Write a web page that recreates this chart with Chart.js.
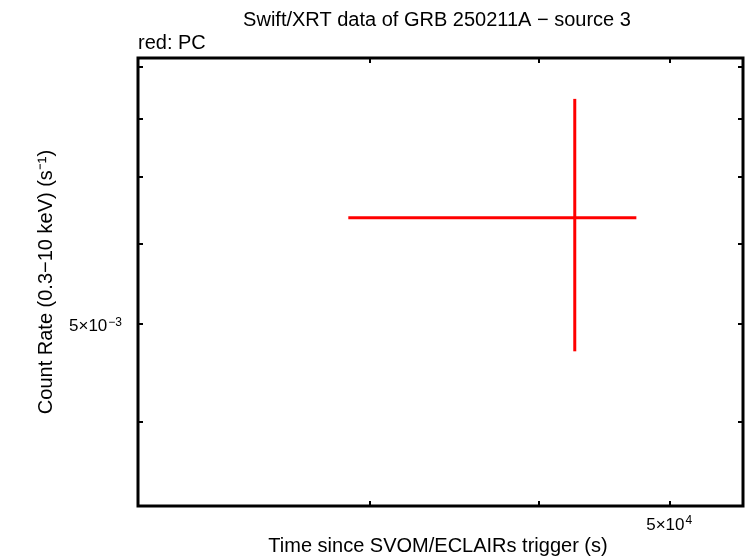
<!DOCTYPE html>
<html>
<head>
<meta charset="utf-8">
<script src="https://cdn.jsdelivr.net/npm/chart.js@4/dist/chart.umd.min.js"></script>
<style>
  html, body { margin: 0; padding: 0; background: #fff; }
  #wrap { width: 746px; height: 558px; }
</style>
</head>
<body>
<div id="wrap"><canvas id="lc" width="746" height="558"></canvas></div>
<script>
// light curve bin (PC mode)
const binTime = [4.25e4];
const binTimeLo = [2.89e4];
const binTimeHi = [4.72e4];
const binRate = [6.38e-3];
const binRateLo = [4.70e-3];
const binRateHi = [8.37e-3];

// axis ranges and ticks
const xRange = [2.02e4, 5.66e4];
const yRange = [3.31e-3, 9.19e-3];
const xTicks = [3e4, 4e4, 5e4];
const yTicks = [4e-3, 5e-3, 6e-3, 7e-3, 8e-3, 9e-3];
// labelled ticks: [value, mantissa text, exponent text]
const xTickLabels = [[5e4, '5×10', '4']];
const yTickLabels = [[5e-3, '5×10', '−3']];

const FONT = '"Liberation Sans", Arial, Helvetica, sans-serif';

// error bars as line segments, one dataset per segment
const segments = [];
binTime.forEach((t, i) => {
    segments.push({ data: [{ x: binTimeLo[i], y: binRate[i] }, { x: binTimeHi[i], y: binRate[i] }] });
    segments.push({ data: [{ x: t, y: binRateLo[i] }, { x: t, y: binRateHi[i] }] });
});

// draws "base^sup" with left edge at x, baseline-middle at y; returns width
function powLabel(ctx, base, sup, x, y, measureOnly) {
    ctx.font = '17px ' + FONT;
    const wb = ctx.measureText(base).width;
    ctx.font = '12px ' + FONT;
    const ws = ctx.measureText(sup).width;
    if (!measureOnly) {
        ctx.textAlign = 'left';
        ctx.textBaseline = 'middle';
        ctx.font = '17px ' + FONT;
        ctx.fillText(base, x, y);
        ctx.font = '12px ' + FONT;
        ctx.fillText(sup, x + wb + 1, y - 4);
    }
    return wb + ws + 1;
}

const framePlugin = {
    id: 'frame',
    afterDraw(chart) {
        const ctx = chart.ctx;
        const a = chart.chartArea;
        const xs = chart.scales.x, ys = chart.scales.y;
        ctx.save();
        ctx.strokeStyle = '#000';
        ctx.lineWidth = 2;
        xTicks.forEach(v => {
            const px = Math.round(xs.getPixelForValue(v));
            ctx.beginPath();
            ctx.moveTo(px, a.bottom); ctx.lineTo(px, a.bottom - 5);
            ctx.moveTo(px, a.top); ctx.lineTo(px, a.top + 5);
            ctx.stroke();
        });
        yTicks.forEach(v => {
            const py = Math.round(ys.getPixelForValue(v));
            ctx.beginPath();
            ctx.moveTo(a.left, py); ctx.lineTo(a.left + 5, py);
            ctx.moveTo(a.right, py); ctx.lineTo(a.right - 5, py);
            ctx.stroke();
        });
        ctx.lineWidth = 3;
        ctx.strokeRect(a.left, a.top, a.right - a.left, a.bottom - a.top);

        ctx.fillStyle = '#000';
        xTickLabels.forEach(([v, b, s]) => {
            const w = powLabel(ctx, b, s, 0, 0, true);
            powLabel(ctx, b, s, xs.getPixelForValue(v) - w / 2 - 1, a.bottom + 19);
        });
        yTickLabels.forEach(([v, b, s]) => {
            const w = powLabel(ctx, b, s, 0, 0, true);
            powLabel(ctx, b, s, a.left - 16 - w, ys.getPixelForValue(v) + 2);
        });

        ctx.font = '20px ' + FONT;
        ctx.textBaseline = 'middle';
        ctx.textAlign = 'center';
        ctx.fillText('Swift/XRT data of GRB 250211A − source 3', 437, 20);
        ctx.fillText('Time since SVOM/ECLAIRs trigger (s)', 438, 546);
        ctx.textAlign = 'left';
        ctx.fillText('red: PC', a.left, 43);

        ctx.translate(46, 282);
        ctx.rotate(-Math.PI / 2);
        ctx.textAlign = 'center';
        ctx.fillText('Count Rate (0.3−10 keV) (s⁻¹)', 0, 0);
        ctx.restore();
    }
};

const ctx = document.getElementById('lc').getContext('2d');
new Chart(ctx, {
    type: 'line',
    data: {
        datasets: segments.map(s => ({
            data: s.data,
            borderColor: '#ff0000',
            borderWidth: 3,
            pointRadius: 0,
            fill: false,
            tension: 0
        }))
    },
    options: {
        responsive: false,
        animation: false,
        layout: { padding: { left: 138, right: 3, top: 58, bottom: 52 } },
        plugins: { legend: { display: false }, tooltip: { enabled: false } },
        scales: {
            x: {
                type: 'logarithmic', min: xRange[0], max: xRange[1],
                grid: { display: false, drawTicks: false }, border: { display: false },
                ticks: { display: false }
            },
            y: {
                type: 'logarithmic', min: yRange[0], max: yRange[1],
                grid: { display: false, drawTicks: false }, border: { display: false },
                ticks: { display: false }
            }
        }
    },
    plugins: [framePlugin]
});
</script>
</body>
</html>
